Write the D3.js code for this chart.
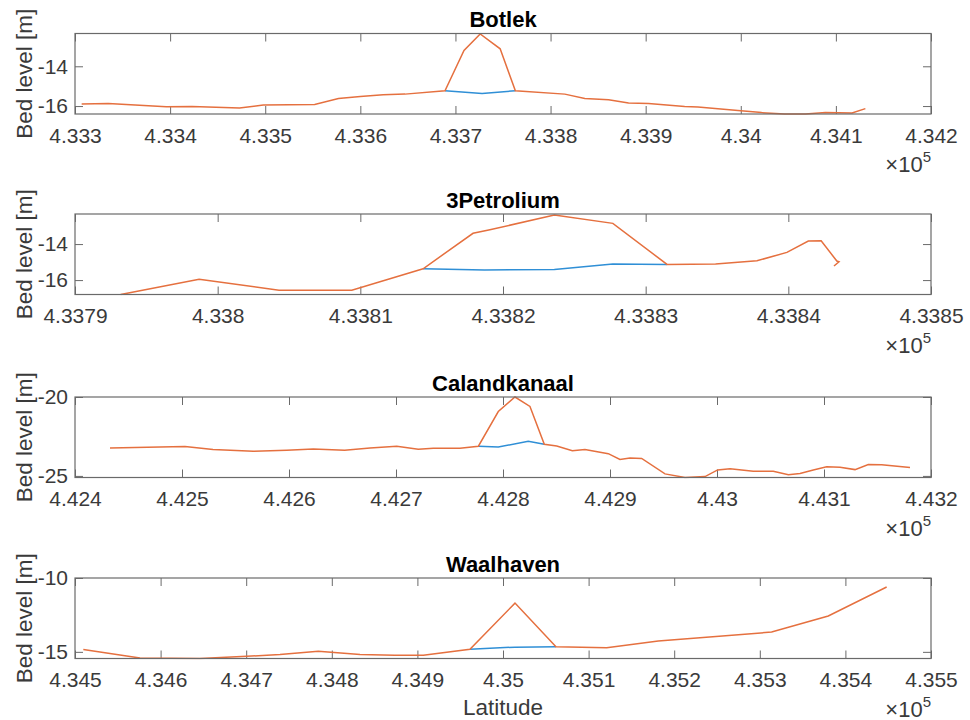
<!DOCTYPE html>
<html>
<head>
<meta charset="utf-8">
<script src="https://cdn.jsdelivr.net/npm/d3@7/dist/d3.min.js"></script>
<style>
  html, body { margin: 0; padding: 0; background: #fff; }
  svg { display: block; font-family: "Liberation Sans", Arial, sans-serif; }
</style>
</head>
<body>
<svg id="chart" width="970" height="720"></svg>
<script>
// Bed level profiles along four harbour basins (x in metres, y in m)
const basinNames = ["Botlek", "3Petrolium", "Calandkanaal", "Waalhaven"];

const xLimits = [
  [433300, 434200],
  [433790, 433850],
  [442400, 443200],
  [434500, 435500]
];
const yLimits = [
  [-16.4, -12.35],
  [-16.8, -12.33],
  [-25.1, -20.0],
  [-15.45, -10.0]
];
const xTickStep = [100, 10, 100, 100];
const yTicks = [
  [-16, -14],
  [-16, -14],
  [-25, -20],
  [-15, -10]
];

// Original bed (blue), visible where the new profile departs from it
const botlekOriginal = [[433689, -15.23], [433728, -15.37], [433763, -15.23]];
const petroliumOriginal = [[433814.4, -15.37], [433818.7, -15.44], [433823.6, -15.41], [433827.7, -15.11], [433831.5, -15.13]];
const calandOriginal = [[442777, -23.12], [442795.6, -23.17], [442823.6, -22.8], [442838.6, -22.99]];
const waalhavenOriginal = [[434961.4, -14.82], [435014, -14.68], [435061.9, -14.66]];

// New bed profile (orange)
const botlekNew = [
  [433307, -15.9], [433335, -15.87], [433396, -16.03], [433423, -16.02], [433473, -16.1],
  [433498, -15.95], [433552, -15.92], [433577, -15.62], [433600, -15.52], [433624, -15.43],
  [433647, -15.4], [433689, -15.23], [433709, -13.2], [433726, -12.37], [433747, -13.12],
  [433763, -15.23], [433815, -15.4], [433836, -15.62], [433861, -15.68], [433882, -15.85],
  [433903, -15.87], [433941, -16.02], [433955, -16.05], [433997, -16.23], [434022, -16.33],
  [434046, -16.4], [434068, -16.4], [434089, -16.33], [434117, -16.35], [434131, -16.13]
];
const petroliumNew = [
  [433793.2, -16.8], [433798.7, -15.96], [433804.3, -16.56], [433809.4, -16.56], [433814.4, -15.37],
  [433817.9, -13.4], [433819.0, -13.22], [433823.6, -12.39], [433827.7, -12.85], [433831.5, -15.13],
  [433834.9, -15.11], [433837.8, -14.93], [433839.9, -14.46], [433841.4, -13.83], [433842.3, -13.82],
  [433843.4, -14.94], [433843.55, -14.98], [433843.2, -15.22]
];
const calandNew = [
  [442432.7, -23.23], [442502.8, -23.14], [442529, -23.33], [442566.6, -23.44], [442597.8, -23.38],
  [442622.7, -23.3], [442652, -23.38], [442675.7, -23.23], [442700.7, -23.12], [442720.8, -23.31],
  [442734.9, -23.25], [442759.8, -23.25], [442777, -23.12], [442795.6, -20.92], [442811.2, -20.0],
  [442825.2, -20.6], [442838.6, -22.99], [442850.2, -23.1], [442864.8, -23.4], [442876.6, -23.33],
  [442898.4, -23.59], [442909.3, -23.96], [442918.7, -23.87], [442929.6, -23.89], [442951.4, -24.87],
  [442970.1, -25.1], [442988.8, -25.04], [443000.6, -24.62], [443012.2, -24.55], [443033.9, -24.7],
  [443052.6, -24.7], [443066.7, -24.92], [443077.6, -24.85], [443090, -24.62], [443102.5, -24.42],
  [443115, -24.45], [443129, -24.6], [443141.4, -24.28], [443153.9, -24.3], [443180.4, -24.47]
];
const waalhavenNew = [
  [434509.7, -14.84], [434575.9, -15.41], [434646, -15.45], [434700.6, -15.3], [434739.5, -15.18],
  [434784.2, -14.96], [434833, -15.18], [434873.8, -15.23], [434906.9, -15.23], [434961.4, -14.82],
  [435014, -11.7], [435061.9, -14.66], [435121.1, -14.73], [435181.4, -14.27], [435313.8, -13.66],
  [435380, -12.57], [435448.2, -10.61]
];

const originalSeries = [botlekOriginal, petroliumOriginal, calandOriginal, waalhavenOriginal];
const newSeries = [botlekNew, petroliumNew, calandNew, waalhavenNew];

const svg = d3.select("#chart");
const left = 75, right = 931;
const panelTops = [33.5, 214, 397, 578];
const panelH = 80.5;
const tickLen = 8;
const textColor = "#3a3a3a";
const frameColor = "#6a6a6a";
const blue = "#2f8fd6";
const orange = "#e5703f";

const fmt = v => String(parseFloat((v / 1e5).toFixed(6)));

basinNames.forEach((name, i) => {
  const top = panelTops[i], bottom = top + panelH;
  const x = d3.scaleLinear().domain(xLimits[i]).range([left, right]);
  const y = d3.scaleLinear().domain(yLimits[i]).range([bottom, top]);
  const g = svg.append("g");

  const clipId = "clip" + i;
  g.append("clipPath").attr("id", clipId)
    .append("rect").attr("x", left).attr("y", top - 1).attr("width", right - left).attr("height", panelH + 2);

  const xt = d3.range(xLimits[i][0], xLimits[i][1] + xTickStep[i] / 2, xTickStep[i]);

  // bottom axis with inward ticks
  const xAxis = d3.axisBottom(x).tickValues(xt).tickSize(-tickLen).tickPadding(tickLen + 6).tickFormat(fmt);
  const gx = g.append("g").attr("transform", `translate(0,${bottom})`).call(xAxis);
  gx.select(".domain").remove();
  gx.selectAll("line").attr("stroke", frameColor);
  gx.selectAll("text").attr("fill", textColor).style("font-size", "21px");

  // mirrored top ticks
  const gxt = g.append("g").attr("transform", `translate(0,${top})`)
    .call(d3.axisTop(x).tickValues(xt).tickSize(-tickLen).tickFormat(""));
  gxt.select(".domain").remove();
  gxt.selectAll("line").attr("stroke", frameColor);

  // left axis
  const yAxis = d3.axisLeft(y).tickValues(yTicks[i]).tickSize(-tickLen).tickPadding(7).tickFormat(d3.format("d"));
  const gy = g.append("g").attr("transform", `translate(${left},0)`).call(yAxis);
  gy.select(".domain").remove();
  gy.selectAll("line").attr("stroke", frameColor);
  gy.selectAll("text").attr("fill", textColor).style("font-size", "21px").text(d => String(d));

  // mirrored right ticks
  const gyr = g.append("g").attr("transform", `translate(${right},0)`)
    .call(d3.axisRight(y).tickValues(yTicks[i]).tickSize(-tickLen).tickFormat(""));
  gyr.select(".domain").remove();
  gyr.selectAll("line").attr("stroke", frameColor);

  // profiles
  const line = d3.line().x(d => x(d[0])).y(d => y(d[1]));
  const plot = g.append("g").attr("clip-path", `url(#${clipId})`);
  plot.append("path").datum(originalSeries[i]).attr("d", line)
    .attr("fill", "none").attr("stroke", blue).attr("stroke-width", 1.5);
  plot.append("path").datum(newSeries[i]).attr("d", line)
    .attr("fill", "none").attr("stroke", orange).attr("stroke-width", 1.5);

  // frame
  g.append("rect").attr("x", left).attr("y", top).attr("width", right - left).attr("height", panelH)
    .attr("fill", "none").attr("stroke", frameColor).attr("stroke-width", 1.2);

  // title
  g.append("text").attr("x", (left + right) / 2).attr("y", top - 6.5)
    .attr("text-anchor", "middle").attr("fill", "#000")
    .style("font-size", "22px").style("font-weight", "bold").text(name);

  // y label
  g.append("text").attr("transform", `translate(32,${(top + bottom) / 2}) rotate(-90)`)
    .attr("text-anchor", "middle").attr("fill", textColor).style("font-size", "22.5px")
    .text("Bed level [m]");

  // exponent
  const ex = g.append("text").attr("x", right).attr("y", bottom + 58)
    .attr("text-anchor", "end").attr("fill", textColor).style("font-size", "22px");
  ex.append("tspan").text("×10");
  ex.append("tspan").attr("dy", -10).style("font-size", "15px").text("5");
});

svg.append("text").attr("x", (left + right) / 2).attr("y", 715)
  .attr("text-anchor", "middle").attr("fill", textColor).style("font-size", "22.5px")
  .text("Latitude");
</script>
</body>
</html>
